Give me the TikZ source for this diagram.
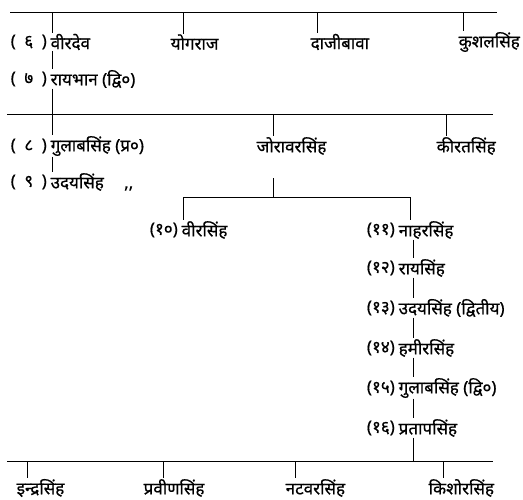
\documentclass[tikz,border=0pt]{standalone}
\usepackage{fontspec}
\newfontfamily\deva[Script=Devanagari,FakeBold=0.6]{Noto Sans}
\begin{document}
\begin{tikzpicture}[x=1pt,y=-1pt,
  every node/.style={font=\deva\fontsize{17}{20}\selectfont, inner sep=0.5pt},
  nm/.style={anchor=west},
  num/.style={anchor=east, inner xsep=3pt},
  ln/.style={line width=0.9pt}]
\useasboundingbox (0,0) rectangle (523,499);

% generations, left to right, top to bottom
\node[nm] (v6) at (50,42) {वीरदेव};
\node[num] at (v6.west) {(\hspace{0.5em}६\hspace{0.5em})};
\node[nm] (yog) at (170,42) {योगराज};
\node[nm] (daji) at (310,42) {दाजीबावा};
\node[nm] (kush) at (458,42) {कुशलसिंह};

\node[nm] (v7) at (50,79) {रायभान (द्वि०)};
\node[num] at (v7.west) {(\hspace{0.5em}७\hspace{0.5em})};

\node[nm] (v8) at (50,146) {गुलाबसिंह (प्र०)};
\node[num] at (v8.west) {(\hspace{0.5em}८\hspace{0.5em})};
\node[nm] (jor) at (256,146) {जोरावरसिंह};
\node[nm] (kir) at (436,146) {कीरतसिंह};

\node[nm] (v9) at (50,182) {उदयसिंह\hspace{1.2em},,};
\node[num] at (v9.west) {(\hspace{0.5em}९\hspace{0.5em})};

\node[nm] (v10) at (181,230) {वीरसिंह};
\node[num] at (v10.west) {(१०)};
\node[nm] (v11) at (398,230) {नाहरसिंह};
\node[num] at (v11.west) {(११)};
\node[nm] (v12) at (398,268) {रायसिंह};
\node[num] at (v12.west) {(१२)};
\node[nm] (v13) at (398,308) {उदयसिंह (द्वितीय)};
\node[num] at (v13.west) {(१३)};
\node[nm] (v14) at (398,348) {हमीरसिंह};
\node[num] at (v14.west) {(१४)};
\node[nm] (v15) at (398,388) {गुलाबसिंह (द्वि०)};
\node[num] at (v15.west) {(१५)};
\node[nm] (v16) at (398,428) {प्रतापसिंह};
\node[num] at (v16.west) {(१६)};

\node[nm] (ind) at (16,488) {इन्द्रसिंह};
\node[nm] (prv) at (143,488) {प्रवीणसिंह};
\node[nm] (nat) at (285,488) {नटवरसिंह};
\node[nm] (kis) at (428,488) {किशोरसिंह};

% horizontal bars
\coordinate (b1l) at (10,12);  \coordinate (b1r) at (497,12);
\coordinate (b2l) at (7,114);  \coordinate (b2r) at (493,114);
\coordinate (b3l) at (183,197); \coordinate (b3r) at (410,197);
\coordinate (b4l) at (7,461);  \coordinate (b4r) at (493,461);
\coordinate (cx) at (52,0);
\coordinate (jx) at (273,0);
\coordinate (kx) at (413,0);

\draw[ln] (b1l) -- (b1r);
\draw[ln] (b2l) -- (b2r);
\draw[ln] (b3l) -- (b3r);
\draw[ln] (b4l) -- (b4r);

% top bar to its four names
\draw[ln] (b1l -| cx) -- (v6.north -| cx);
\draw[ln] (b1l -| 183,0) -- (yog.north -| 183,0);
\draw[ln] (b1l -| 317,0) -- (daji.north -| 317,0);
\draw[ln] (b1l -| 463,0) -- (kush.north -| 463,0);

% left line of descent
\draw[ln] (v6.south -| cx) -- (v7.north -| cx);
\draw[ln] (v7.south -| cx) -- (v8.north -| cx);
\draw[ln] (b2l -| jx) -- (jor.north -| jx);
\draw[ln] (b2l -| 446,0) -- (kir.north -| 446,0);
\draw[ln] (v8.south -| cx) -- (v9.north -| cx);

% branch below Jorawarsingh
\draw[ln] (b3l -| jx) -- ++(0,-19);
\draw[ln] (b3l) -- (v10.north -| b3l);
\draw[ln] (b3r) -- (v11.north -| b3r);

% right line of descent
\draw[ln] (v11.south -| kx) -- (v12.north -| kx);
\draw[ln] (v12.south -| kx) -- (v13.north -| kx);
\draw[ln] (v13.south -| kx) -- (v14.north -| kx);
\draw[ln] (v14.south -| kx) -- (v15.north -| kx);
\draw[ln] (v15.south -| kx) -- (v16.north -| kx);
\draw[ln] (v16.south -| kx) -- (b4l -| kx);

% bottom bar to its four names
\draw[ln] (b4l -| 27,0) -- (ind.north -| 27,0);
\draw[ln] (b4l -| 163,0) -- (prv.north -| 163,0);
\draw[ln] (b4l -| 295,0) -- (nat.north -| 295,0);
\draw[ln] (b4l -| 443,0) -- (kis.north -| 443,0);
\end{tikzpicture}
\end{document}
